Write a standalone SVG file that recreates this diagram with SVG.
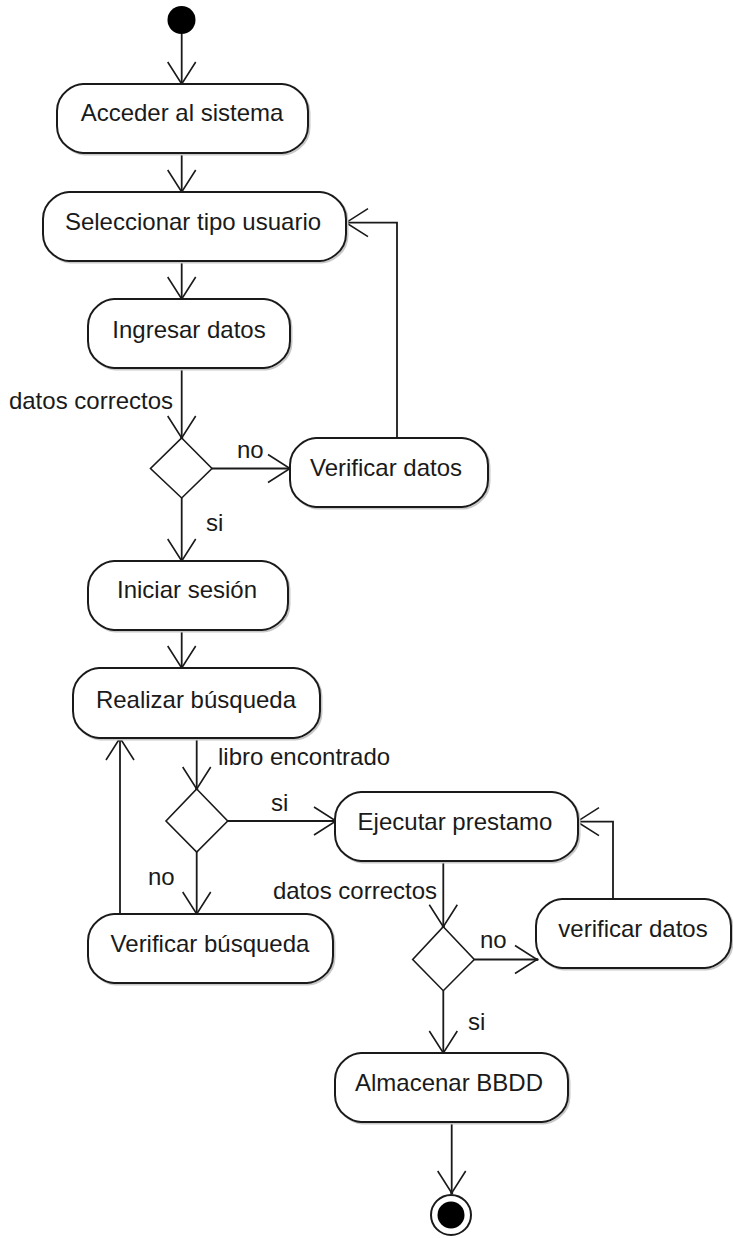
<svg xmlns="http://www.w3.org/2000/svg" width="733" height="1238" viewBox="0 0 733 1238">
  <style>
    .act { fill: #ffffff; stroke: #1a1a1a; stroke-width: 2; }
    .shadow { fill: none; stroke: #c8c8c8; stroke-width: 2; }
    .dec { fill: #ffffff; stroke: #1a1a1a; stroke-width: 1.6; }
    .lbl { font-family: "Liberation Sans", Arial, sans-serif; font-size: 24px; fill: #1a1a1a; }
    .mid { text-anchor: middle; }
    .end { text-anchor: end; }
    .flow { fill: none; stroke: #1a1a1a; stroke-width: 1.8; marker-end: url(#open); }
  </style>
  <defs>
    <marker id="open" markerUnits="userSpaceOnUse" viewBox="-25 -16 27 32" markerWidth="27" markerHeight="32" refX="0" refY="0" orient="auto">
      <path d="M-22,-14 L0,0 L-22,14" fill="none" stroke="#1a1a1a" stroke-width="1.6"/>
      <circle cx="0" cy="0" r="1.6" fill="#1a1a1a"/>
    </marker>
  </defs>
  <rect width="733" height="1238" fill="#ffffff"/>

  <!-- connectors -->
  <g id="connectors">
    <path class="flow" d="M181.7,34 V84"/>
    <path class="flow" d="M181.7,153 V192"/>
    <path class="flow" d="M181.7,261 V299"/>
    <path class="flow" d="M181.7,369 V438"/>
    <text class="lbl end" x="173" y="409">datos correctos</text>
    <path class="flow" d="M212,468.5 H290"/>
    <text class="lbl" x="237" y="458">no</text>
    <path class="flow" d="M397,438 V222.7 H346"/>
    <path class="flow" d="M181.7,498 V561"/>
    <text class="lbl" x="206" y="531">si</text>
    <path class="flow" d="M181.7,630 V668"/>
    <path class="flow" d="M196.7,738 V789"/>
    <text class="lbl" x="218" y="765">libro encontrado</text>
    <path class="flow" d="M227.7,821 H336"/>
    <text class="lbl" x="271" y="811">si</text>
    <path class="flow" d="M196.7,852 V914"/>
    <text class="lbl" x="148" y="885">no</text>
    <path class="flow" d="M120,914 V738"/>
    <path class="flow" d="M443.3,861 V926.7"/>
    <text class="lbl end" x="437" y="899">datos correctos</text>
    <path class="flow" d="M474.3,959.5 H537"/>
    <text class="lbl" x="480" y="948">no</text>
    <path class="flow" d="M613,899 V821.7 H577"/>
    <path class="flow" d="M443.3,990.7 V1053"/>
    <text class="lbl" x="468" y="1030">si</text>
    <path class="flow" d="M451.7,1122 V1193"/>
  </g>

  <!-- start -->
  <g id="start">
    <circle cx="181.5" cy="20" r="14" fill="#000000"/>
  </g>

  <!-- action states: height 69, flattened corner curves; only the width varies -->
  <g id="acceder" transform="translate(57,84)">
    <path class="shadow" transform="translate(1.5,1.5)" d="M26,0 h199 c7.8,0 26,8.1 26,27 v15 c0,18.9 -18.2,27 -26,27 h-199 c-7.8,0 -26,-8.1 -26,-27 v-15 c0,-18.9 18.2,-27 26,-27 z"/>
    <path class="act" d="M26,0 h199 c7.8,0 26,8.1 26,27 v15 c0,18.9 -18.2,27 -26,27 h-199 c-7.8,0 -26,-8.1 -26,-27 v-15 c0,-18.9 18.2,-27 26,-27 z"/>
    <text class="lbl mid" x="125" y="37">Acceder al sistema</text>
  </g>

  <g id="seleccionar" transform="translate(43,192)">
    <path class="shadow" transform="translate(1.5,1.5)" d="M26,0 h251 c7.8,0 26,8.1 26,27 v15 c0,18.9 -18.2,27 -26,27 h-251 c-7.8,0 -26,-8.1 -26,-27 v-15 c0,-18.9 18.2,-27 26,-27 z"/>
    <path class="act" d="M26,0 h251 c7.8,0 26,8.1 26,27 v15 c0,18.9 -18.2,27 -26,27 h-251 c-7.8,0 -26,-8.1 -26,-27 v-15 c0,-18.9 18.2,-27 26,-27 z"/>
    <text class="lbl mid" x="150" y="38">Seleccionar tipo usuario</text>
  </g>

  <g id="ingresar" transform="translate(88,299)">
    <path class="shadow" transform="translate(1.5,1.5)" d="M26,0 h150 c7.8,0 26,8.1 26,27 v15 c0,18.9 -18.2,27 -26,27 h-150 c-7.8,0 -26,-8.1 -26,-27 v-15 c0,-18.9 18.2,-27 26,-27 z"/>
    <path class="act" d="M26,0 h150 c7.8,0 26,8.1 26,27 v15 c0,18.9 -18.2,27 -26,27 h-150 c-7.8,0 -26,-8.1 -26,-27 v-15 c0,-18.9 18.2,-27 26,-27 z"/>
    <text class="lbl mid" x="101" y="39">Ingresar datos</text>
  </g>

  <g id="decision1">
    <polygon class="dec" points="181.7,438 212,468.5 181.7,498 150.5,468.5"/>
  </g>

  <g id="verificar-datos-1" transform="translate(290,438)">
    <path class="shadow" transform="translate(1.5,1.5)" d="M26,0 h146 c7.8,0 26,8.1 26,27 v15 c0,18.9 -18.2,27 -26,27 h-146 c-7.8,0 -26,-8.1 -26,-27 v-15 c0,-18.9 18.2,-27 26,-27 z"/>
    <path class="act" d="M26,0 h146 c7.8,0 26,8.1 26,27 v15 c0,18.9 -18.2,27 -26,27 h-146 c-7.8,0 -26,-8.1 -26,-27 v-15 c0,-18.9 18.2,-27 26,-27 z"/>
    <text class="lbl mid" x="96" y="38">Verificar datos</text>
  </g>

  <g id="iniciar" transform="translate(88,561)">
    <path class="shadow" transform="translate(1.5,1.5)" d="M26,0 h148 c7.8,0 26,8.1 26,27 v15 c0,18.9 -18.2,27 -26,27 h-148 c-7.8,0 -26,-8.1 -26,-27 v-15 c0,-18.9 18.2,-27 26,-27 z"/>
    <path class="act" d="M26,0 h148 c7.8,0 26,8.1 26,27 v15 c0,18.9 -18.2,27 -26,27 h-148 c-7.8,0 -26,-8.1 -26,-27 v-15 c0,-18.9 18.2,-27 26,-27 z"/>
    <text class="lbl mid" x="99" y="37">Iniciar sesión</text>
  </g>

  <g id="realizar" transform="translate(73,668)">
    <path class="shadow" transform="translate(1.5,1.5)" d="M26,0 h195 c7.8,0 26,8.1 26,27 v16 c0,18.9 -18.2,27 -26,27 h-195 c-7.8,0 -26,-8.1 -26,-27 v-16 c0,-18.9 18.2,-27 26,-27 z"/>
    <path class="act" d="M26,0 h195 c7.8,0 26,8.1 26,27 v16 c0,18.9 -18.2,27 -26,27 h-195 c-7.8,0 -26,-8.1 -26,-27 v-16 c0,-18.9 18.2,-27 26,-27 z"/>
    <text class="lbl mid" x="123" y="40">Realizar búsqueda</text>
  </g>

  <g id="decision2">
    <polygon class="dec" points="196.7,789 227.7,821 196.7,852 166,821"/>
  </g>

  <g id="ejecutar" transform="translate(335,792)">
    <path class="shadow" transform="translate(1.5,1.5)" d="M26,0 h191 c7.8,0 26,8.1 26,27 v15 c0,18.9 -18.2,27 -26,27 h-191 c-7.8,0 -26,-8.1 -26,-27 v-15 c0,-18.9 18.2,-27 26,-27 z"/>
    <path class="act" d="M26,0 h191 c7.8,0 26,8.1 26,27 v15 c0,18.9 -18.2,27 -26,27 h-191 c-7.8,0 -26,-8.1 -26,-27 v-15 c0,-18.9 18.2,-27 26,-27 z"/>
    <text class="lbl mid" x="120" y="38">Ejecutar prestamo</text>
  </g>

  <g id="verificar-busqueda" transform="translate(88,914)">
    <path class="shadow" transform="translate(1.5,1.5)" d="M26,0 h193 c7.8,0 26,8.1 26,27 v15 c0,18.9 -18.2,27 -26,27 h-193 c-7.8,0 -26,-8.1 -26,-27 v-15 c0,-18.9 18.2,-27 26,-27 z"/>
    <path class="act" d="M26,0 h193 c7.8,0 26,8.1 26,27 v15 c0,18.9 -18.2,27 -26,27 h-193 c-7.8,0 -26,-8.1 -26,-27 v-15 c0,-18.9 18.2,-27 26,-27 z"/>
    <text class="lbl mid" x="122" y="38">Verificar búsqueda</text>
  </g>

  <g id="decision3">
    <polygon class="dec" points="443.3,926.7 474.3,959.5 443.3,990.7 412.7,959.5"/>
  </g>

  <g id="verificar-datos-2" transform="translate(536,899)">
    <path class="shadow" transform="translate(1.5,1.5)" d="M26,0 h143 c7.8,0 26,8.1 26,27 v15 c0,18.9 -18.2,27 -26,27 h-143 c-7.8,0 -26,-8.1 -26,-27 v-15 c0,-18.9 18.2,-27 26,-27 z"/>
    <path class="act" d="M26,0 h143 c7.8,0 26,8.1 26,27 v15 c0,18.9 -18.2,27 -26,27 h-143 c-7.8,0 -26,-8.1 -26,-27 v-15 c0,-18.9 18.2,-27 26,-27 z"/>
    <text class="lbl mid" x="97" y="38">verificar datos</text>
  </g>

  <g id="almacenar" transform="translate(335,1053)">
    <path class="shadow" transform="translate(1.5,1.5)" d="M26,0 h181 c7.8,0 26,8.1 26,27 v15 c0,18.9 -18.2,27 -26,27 h-181 c-7.8,0 -26,-8.1 -26,-27 v-15 c0,-18.9 18.2,-27 26,-27 z"/>
    <path class="act" d="M26,0 h181 c7.8,0 26,8.1 26,27 v15 c0,18.9 -18.2,27 -26,27 h-181 c-7.8,0 -26,-8.1 -26,-27 v-15 c0,-18.9 18.2,-27 26,-27 z"/>
    <text class="lbl mid" x="114" y="38">Almacenar BBDD</text>
  </g>

  <!-- end -->
  <g id="final">
    <circle cx="451" cy="1215" r="20" fill="#ffffff" stroke="#1a1a1a" stroke-width="2"/>
    <circle cx="451" cy="1215" r="13.5" fill="#000000"/>
  </g>
</svg>
